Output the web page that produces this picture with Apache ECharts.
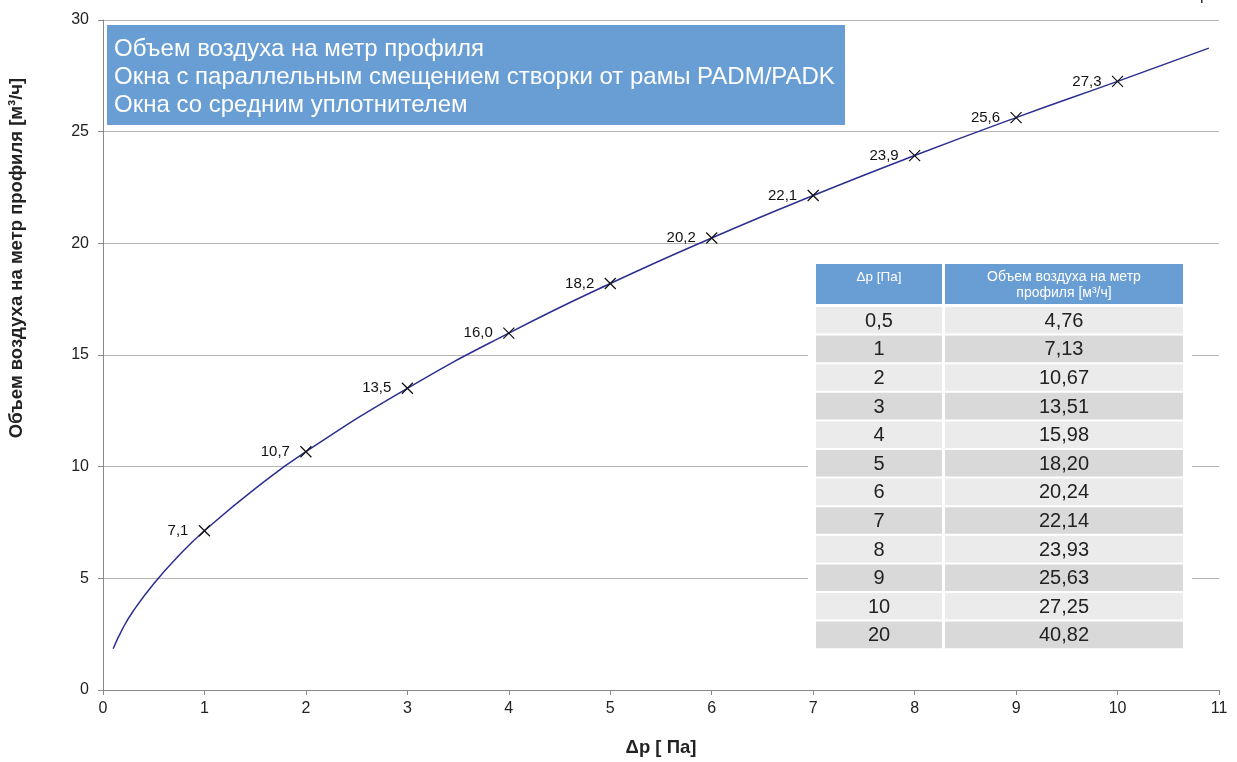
<!DOCTYPE html>
<html>
<head>
<meta charset="utf-8">
<script src="https://cdn.jsdelivr.net/npm/echarts@6/dist/echarts.min.js"></script>
<style>
html,body{margin:0;padding:0;background:#fff;}
#chart{width:1237px;height:762px;}
</style>
</head>
<body>
<div id="chart"></div>
<script>
// ---- data ----
var curveX = [0.1, 0.2, 0.3, 0.5, 0.75, 1, 1.5, 2, 3, 4, 5, 6, 7, 8, 9, 10, 10.9];
var curveY = [1.85, 2.8, 3.55, 4.76, 6.03, 7.13, 9.02, 10.67, 13.51, 15.98, 18.20, 20.24, 22.14, 23.93, 25.63, 27.25, 28.74];
var markX = [1, 2, 3, 4, 5, 6, 7, 8, 9, 10];
var markY = [7.13, 10.67, 13.51, 15.98, 18.20, 20.24, 22.14, 23.93, 25.63, 27.25];
var tableP = ['0,5', '1', '2', '3', '4', '5', '6', '7', '8', '9', '10', '20'];
var tableV = ['4,76', '7,13', '10,67', '13,51', '15,98', '18,20', '20,24', '22,14', '23,93', '25,63', '27,25', '40,82'];
var tableHeader = ['Δp [Па]', 'Объем воздуха на метр\nпрофиля [м³/ч]'];
var titleLines = ['Объем воздуха на метр профиля', 'Окна с параллельным смещением створки от рамы PADM/PADK', 'Окна со средним уплотнителем'];
var xTitle = 'Δp [ Па]';
var yTitle = 'Объем воздуха на метр профиля [м³/ч]';

var chart = echarts.init(document.getElementById('chart'), null, {renderer: 'canvas'});
var FONT = '"Liberation Sans", Arial, sans-serif';
var BLUE = '#699ed4';

var graphics = [];
// title box
graphics.push({type: 'rect', left: 107, top: 25, z: 10, shape: {width: 738, height: 100}, style: {fill: BLUE}});
titleLines.forEach(function (t, i) {
  graphics.push({type: 'text', x: 114, y: 49 + i * 28, z: 11,
    style: {text: t, fill: '#fff', font: '24px ' + FONT, align: 'left', verticalAlign: 'middle'}});
});
// table
var tX0 = 816, tC1 = 942, tC2 = 945, tX1 = 1183, hTop = 264, hBot = 304, rTop = 307, rH = 28.6;
graphics.push({type: 'rect', z: 10, shape: {x: 808, y: 258, width: 384, height: 398}, style: {fill: '#fff'}});
graphics.push({type: 'rect', z: 11, shape: {x: tX0, y: hTop, width: tC1 - tX0, height: hBot - hTop}, style: {fill: BLUE}});
graphics.push({type: 'rect', z: 11, shape: {x: tC2, y: hTop, width: tX1 - tC2, height: hBot - hTop}, style: {fill: BLUE}});
graphics.push({type: 'text', z: 12, x: (tX0 + tC1) / 2, y: 277,
  style: {text: tableHeader[0], fill: '#fff', font: '13.5px ' + FONT, align: 'center', verticalAlign: 'middle'}});
graphics.push({type: 'text', z: 12, x: (tC2 + tX1) / 2, y: 285,
  style: {text: tableHeader[1], fill: '#fff', font: '14px ' + FONT, align: 'center', verticalAlign: 'middle', lineHeight: 16}});
tableP.forEach(function (p, i) {
  var y = rTop + i * rH;
  var fill = (i % 2 === 0) ? '#ebebeb' : '#d9d9d9';
  graphics.push({type: 'rect', z: 11, shape: {x: tX0, y: y, width: tC1 - tX0, height: rH - 2}, style: {fill: fill}});
  graphics.push({type: 'rect', z: 11, shape: {x: tC2, y: y, width: tX1 - tC2, height: rH - 2}, style: {fill: fill}});
  graphics.push({type: 'text', z: 12, x: (tX0 + tC1) / 2, y: y + (rH - 2) / 2 + 1,
    style: {text: p, fill: '#222', font: '20px ' + FONT, align: 'center', verticalAlign: 'middle'}});
  graphics.push({type: 'text', z: 12, x: (tC2 + tX1) / 2, y: y + (rH - 2) / 2 + 1,
    style: {text: tableV[i], fill: '#222', font: '20px ' + FONT, align: 'center', verticalAlign: 'middle'}});
});
// y axis title
graphics.push({type: 'text', z: 12, x: 17, y: 258, rotation: Math.PI / 2,
  style: {text: yTitle, fill: '#222', font: 'bold 18.5px ' + FONT, align: 'center', verticalAlign: 'middle'}});
// cut-off text at top right
graphics.push({type: 'text', z: 12, x: 1200, y: 4,
  style: {text: 'р', fill: '#222', font: '16px ' + FONT, align: 'left', verticalAlign: 'bottom'}});

var option = {
  animation: false,
  backgroundColor: '#fff',
  grid: {left: 103, right: 18, top: 20, bottom: 71, containLabel: false},
  xAxis: {
    type: 'value', min: 0, max: 11, interval: 1,
    name: xTitle, nameLocation: 'middle', nameGap: 48,
    nameTextStyle: {fontFamily: FONT, fontSize: 18.5, fontWeight: 'bold', color: '#222'},
    axisLine: {show: true, onZero: false, lineStyle: {color: '#888', width: 1}},
    axisTick: {show: true, length: 5, lineStyle: {color: '#888'}},
    axisLabel: {fontFamily: FONT, fontSize: 16, color: '#222', margin: 11},
    splitLine: {show: false}
  },
  yAxis: {
    type: 'value', min: 0, max: 30, interval: 5,
    axisLine: {show: true, onZero: false, lineStyle: {color: '#888', width: 1}},
    axisTick: {show: true, length: 5, lineStyle: {color: '#888'}},
    axisLabel: {fontFamily: FONT, fontSize: 16, color: '#222', margin: 14},
    splitLine: {show: true, lineStyle: {color: '#b4b4b4', width: 1}}
  },
  series: [
    {
      type: 'line', smooth: 0.5, showSymbol: false, symbol: 'none',
      data: curveX.map(function (x, i) { return [x, curveY[i]]; }),
      lineStyle: {color: '#2b2f8f', width: 1.5}, z: 3
    },
    {
      type: 'scatter',
      data: markX.map(function (x, i) { return [x, markY[i]]; }),
      symbol: 'path://M0,0L10,10M10,0L0,10', symbolSize: 11,
      itemStyle: {color: 'none', borderColor: '#111', borderWidth: 1.2, opacity: 1},
      label: {
        show: true, position: 'left', distance: 8,
        fontFamily: FONT, fontSize: 15, color: '#111', opacity: 1, textBorderWidth: 0,
        formatter: function (p) { return p.value[1].toFixed(1).replace('.', ','); }
      },
      emphasis: {disabled: true},
      z: 4
    }
  ],
  graphic: graphics
};
chart.setOption(option);
</script>
</body>
</html>
